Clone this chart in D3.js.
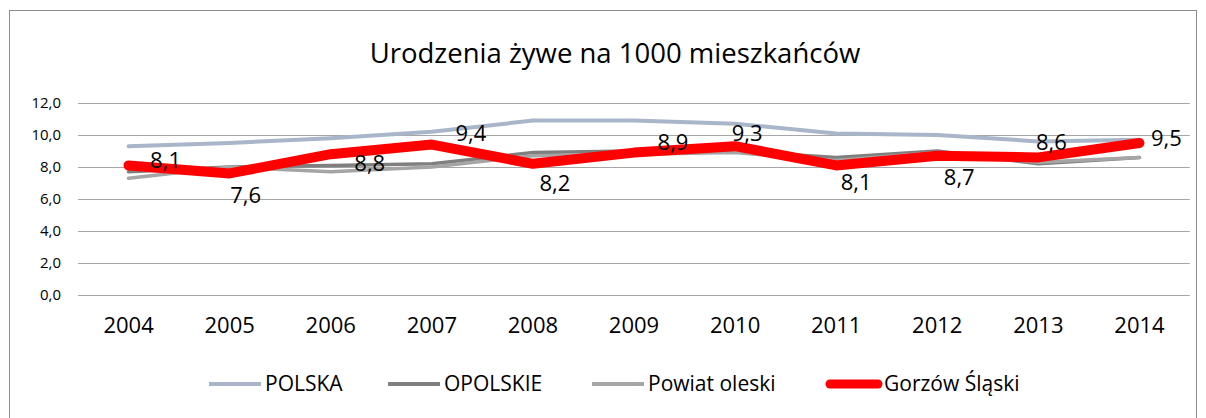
<!DOCTYPE html>
<html>
<head>
<meta charset="utf-8">
<script src="https://cdn.jsdelivr.net/npm/d3@7"></script>
<style>
  body { margin: 0; background: #fff; }
  text { font-family: "Open Sans", sans-serif; fill: #000; }
</style>
</head>
<body>
<script>
// data
var years = ["2004","2005","2006","2007","2008","2009","2010","2011","2012","2013","2014"];
var polska   = [9.3, 9.5, 9.8, 10.2, 10.9, 10.9, 10.7, 10.1, 10.0, 9.6, 9.7];
var opolskie = [7.7, 8.0, 8.1, 8.2, 8.9, 9.0, 9.0, 8.6, 9.0, 8.2, 8.6];
var powiat   = [7.3, 8.0, 7.7, 8.0, 8.7, 8.8, 8.9, 8.4, 8.9, 8.3, 8.6];
var gorzow   = [8.1, 7.6, 8.8, 9.4, 8.2, 8.9, 9.3, 8.1, 8.7, 8.6, 9.5];
var seriesNames = ["POLSKA", "OPOLSKIE", "Powiat oleski", "Gorzów Śląski"];
var yTicks = [0, 2, 4, 6, 8, 10, 12];

// label offsets for red series (hand placed like in the source chart)
var labelOffsets = [[37,-5],[16,22],[39,9],[39,-11],[22,19],[39,-10],[12,-13],[20,17],[22,21],[13,-15],[27,-5]];

var W = 1206, H = 418;
var margin = {top: 103, right: 16, bottom: 123, left: 78};

var svg = d3.select("body").append("svg")
    .attr("width", W)
    .attr("height", H);

// chart border
svg.append("rect")
    .attr("x", 9.5).attr("y", 10.5)
    .attr("width", 1187).attr("height", 430)
    .attr("fill", "none")
    .attr("stroke", "#8c8c8c")
    .attr("stroke-width", 1);

svg.append("text")
    .attr("x", 615).attr("y", 63)
    .attr("text-anchor", "middle")
    .style("font-size", "27.5px")
    .text("Urodzenia żywe na 1000 mieszkańców");

var x = d3.scaleBand()
    .domain(years)
    .range([margin.left, W - margin.right]);

var y = d3.scaleLinear()
    .domain([0, 12])
    .range([H - margin.bottom, margin.top]);

// gridlines + y labels
var yAxis = d3.axisLeft(y)
    .tickValues(yTicks)
    .tickSize(-(W - margin.right - margin.left))
    .tickPadding(17)
    .tickFormat(function(d) { return d3.format(".1f")(d).replace(".", ","); });

var gy = svg.append("g")
    .attr("transform", "translate(" + margin.left + ",0)")
    .call(yAxis);
gy.select(".domain").remove();
gy.selectAll(".tick line").attr("stroke", "#a6a6a6").attr("stroke-width", 1);
gy.selectAll(".tick text")
    .style("font-size", "15px")
    .style("font-family", "'Open Sans', sans-serif")
    .attr("fill", "#000");

// x labels
var xAxis = d3.axisBottom(x).tickSize(0).tickPadding(22);
var gx = svg.append("g")
    .attr("transform", "translate(0," + (H - margin.bottom) + ")")
    .call(xAxis);
gx.select(".domain").remove();
gx.selectAll(".tick text")
    .style("font-size", "22px")
    .style("font-family", "'Open Sans', sans-serif")
    .attr("fill", "#000");

var series = [
    {name: seriesNames[0], values: polska,   color: "#a9b6c9", width: 4},
    {name: seriesNames[1], values: opolskie, color: "#7f7f7f", width: 3.5},
    {name: seriesNames[2], values: powiat,   color: "#a5a5a5", width: 3.5},
    {name: seriesNames[3], values: gorzow,   color: "#ff0000", width: 10}
];

var line = d3.line()
    .x(function(d, i) { return x(years[i]) + x.bandwidth() / 2; })
    .y(function(d) { return y(d); });

svg.selectAll(".series")
    .data(series)
    .enter().append("path")
    .attr("class", "series")
    .attr("d", function(s) { return line(s.values); })
    .attr("fill", "none")
    .attr("stroke", function(s) { return s.color; })
    .attr("stroke-width", function(s) { return s.width; })
    .attr("stroke-linejoin", "round")
    .attr("stroke-linecap", "round");

// data labels for red series
svg.selectAll(".lbl")
    .data(gorzow)
    .enter().append("text")
    .attr("class", "lbl")
    .attr("x", function(d, i) { return x(years[i]) + x.bandwidth() / 2 + labelOffsets[i][0]; })
    .attr("y", function(d, i) { return y(d) + labelOffsets[i][1]; })
    .attr("dy", "0.35em")
    .attr("text-anchor", "middle")
    .style("font-size", "22px")
    .text(function(d) { return d3.format(".1f")(d).replace(".", ","); });

// legend
var legendX = [209, 388, 592, 826];
var lg = svg.selectAll(".leg")
    .data(series)
    .enter().append("g")
    .attr("class", "leg")
    .attr("transform", function(d, i) { return "translate(" + legendX[i] + ",384)"; });

lg.append("line")
    .attr("x1", function(d, i) { return i == 3 ? 4 : 0; })
    .attr("x2", 52)
    .attr("y1", 0).attr("y2", 0)
    .attr("stroke", function(d) { return d.color; })
    .attr("stroke-width", function(d, i) { return i == 3 ? 9 : 4; })
    .attr("stroke-linecap", function(d, i) { return i == 3 ? "round" : "butt"; });

lg.append("text")
    .attr("x", function(d, i) { return i == 3 ? 58 : 56; })
    .attr("y", 0)
    .attr("dy", "0.35em")
    .style("font-size", "21px")
    .text(function(d) { return d.name; });
</script>
</body>
</html>
